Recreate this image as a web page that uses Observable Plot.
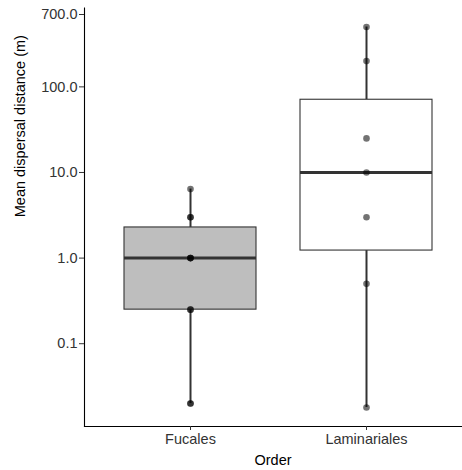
<!DOCTYPE html>
<html>
<head>
<meta charset="utf-8">
<script src="https://cdn.jsdelivr.net/npm/d3@7"></script>
<script src="https://cdn.jsdelivr.net/npm/@observablehq/plot@0.6"></script>
<style>
  html, body { margin: 0; padding: 0; background: #fff; }
  #chart svg { display: block; }
</style>
</head>
<body>
<div id="chart"></div>
<script>
// Orders on the x axis and their box fills
const orders = ["Fucales", "Laminariales"];
const boxFills = ["#bebebe", "#ffffff"];

// Mean dispersal distance (m) per species, by order
const fucales = [0.02, 0.02, 0.25, 0.25, 1, 1, 1, 3, 3, 6.4];
const laminariales = [0.018, 0.5, 3, 10, 25, 200, 500];

// Y tick values
const yTicks = [0.1, 1, 10, 100, 700];

const seriesByOrder = [fucales, laminariales];

const points = orders.flatMap((order, i) =>
  seriesByOrder[i].map(value => ({order, value}))
);

// Box statistics computed on the log10 scale (as with a log-transformed axis)
const stats = orders.map((order, i) => {
  const logs = seriesByOrder[i].map(Math.log10).sort(d3.ascending);
  const q1 = d3.quantile(logs, 0.25);
  const med = d3.quantile(logs, 0.5);
  const q3 = d3.quantile(logs, 0.75);
  const iqr = q3 - q1;
  const lo = d3.min(logs.filter(v => v >= q1 - 1.5 * iqr));
  const hi = d3.max(logs.filter(v => v <= q3 + 1.5 * iqr));
  return {
    order,
    fill: boxFills[i],
    q1: 10 ** q1, median: 10 ** med, q3: 10 ** q3,
    lo: 10 ** lo, hi: 10 ** hi
  };
});

// Log domain padded by 5% of the data range on each side
const [lmin, lmax] = d3.extent(points, d => Math.log10(d.value));
const pad = (lmax - lmin) * 0.05;
const yDomain = [10 ** (lmin - pad), 10 ** (lmax + pad)];

const font = "Liberation Sans, Arial, Helvetica, sans-serif";
const ink = "#333333";
const fmt = d3.format(".1f");

const chart = Plot.plot({
  width: 462,
  height: 470,
  marginLeft: 84,
  marginRight: 1,
  marginTop: 7.5,
  marginBottom: 44,
  style: {fontFamily: font, fontSize: "14.5px", color: "#000", background: "#fff"},
  x: {type: "band", domain: orders, paddingInner: 0.25, paddingOuter: 0.192, align: 0.58},
  y: {type: "log", domain: yDomain},
  color: {type: "identity"},
  marks: [
    // whiskers
    Plot.ruleX(stats, {x: "order", y1: "lo", y2: "q1", stroke: ink, strokeWidth: 2}),
    Plot.ruleX(stats, {x: "order", y1: "q3", y2: "hi", stroke: ink, strokeWidth: 2}),
    // boxes
    Plot.barY(stats, {x: "order", y1: "q1", y2: "q3", fill: "fill", stroke: ink, strokeWidth: 1.1}),
    // medians
    Plot.tickY(stats, {x: "order", y: "median", stroke: ink, strokeWidth: 3}),
    // observations
    Plot.dot(points, {x: "order", y: "value", r: 3.3, fill: "#000", fillOpacity: 0.55, stroke: null}),
    // axis lines
    Plot.frame({anchor: "left", stroke: "#000", strokeWidth: 1.1}),
    Plot.frame({anchor: "bottom", stroke: "#000", strokeWidth: 1.1}),
    // y axis tick marks (labels drawn as text below so every break keeps its label)
    Plot.axisY(yTicks, {
      tickSize: 5,
      tickPadding: 2,
      fill: "none",
      stroke: ink,
      label: null
    }),
    Plot.text(yTicks, {
      y: d => d,
      text: d => fmt(d),
      frameAnchor: "left",
      textAnchor: "end",
      dx: -7,
      fill: ink,
      fontSize: 14.5
    }),
    // x axis ticks and labels
    Plot.axisX({
      tickSize: 4,
      tickPadding: 3,
      fill: ink,
      stroke: ink,
      fontSize: 14.5,
      label: null
    }),
    // axis titles
    Plot.text(["Mean dispersal distance (m)"], {
      frameAnchor: "left",
      rotate: -90,
      dx: -64,
      dy: 0,
      fill: "#000",
      fontSize: 14.5
    }),
    Plot.text(["Order"], {
      frameAnchor: "bottom",
      dy: 38,
      fill: "#000",
      fontSize: 14.5
    })
  ]
});

document.getElementById("chart").appendChild(chart);
</script>
</body>
</html>
